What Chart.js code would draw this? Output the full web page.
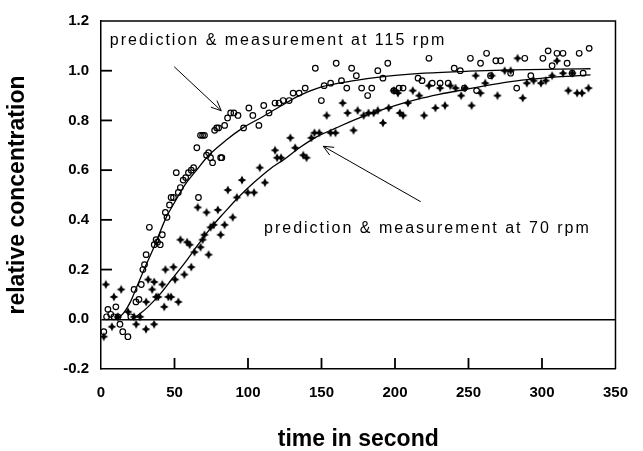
<!DOCTYPE html>
<html>
<head>
<meta charset="utf-8">
<script src="https://cdn.jsdelivr.net/npm/chart.js@4/dist/chart.umd.min.js"></script>
<style>
  body { margin: 0; background: #fff; }
  canvas { display: block; }
</style>
</head>
<body>
<canvas id="chart" width="643" height="451"></canvas>
<script>
// measured points, 115 rpm (open circles)
const circleX = [1.9, 3.8, 4.7, 6.6, 8.8, 10.1, 11.5, 12.9, 14.8, 18.3, 20.3, 22.5, 23.8, 25.8, 27.4, 28.5, 29.6, 30.7, 32.9,
    36.2, 37.5, 38.4, 40.3, 41.7, 43.8, 44.9, 46.6, 47.7, 49.3, 51.2, 52.6, 54.0, 55.9, 57.6, 59.5, 61.4, 63.0,
    65.2, 66.3, 67.7, 69.1, 70.4, 71.8, 73.2, 74.5, 75.9, 77.3, 78.7, 80.0, 81.4, 82.2, 84.1, 86.1, 88.2, 90.4,
    93.2, 97.0, 100.6, 103.3, 107.4, 110.7, 114.3, 118.4, 121.1, 123.9, 128.0, 130.7, 134.8, 138.9, 145.8, 149.9,
    151.8, 156.2, 160.0, 163.6, 167.2, 170.5, 173.7, 177.3, 181.4, 184.2, 188.3, 191.8, 195.1, 199.2, 202.8, 205.5,
    215.7, 218.4, 223.1, 225.3, 230.7, 236.2, 240.3, 244.4, 247.2, 251.3, 255.5, 258.2, 262.3, 265.0, 268.6, 271.9,
    278.7, 282.8, 288.3, 292.4, 300.6, 304.2, 306.9, 310.2, 314.3, 317.1, 320.6, 325.3, 328.0, 332.1];
const circleY = [-0.05, 0.01, 0.04, 0.02, 0.01, 0.05, 0.01, -0.02, -0.05, -0.07, 0.01, 0.12, 0.07, 0.08, 0.14, 0.20, 0.22, 0.26, 0.37,
    0.30, 0.32, 0.31, 0.30, 0.34, 0.43, 0.41, 0.46, 0.49, 0.49, 0.59, 0.51, 0.53, 0.56, 0.57, 0.59, 0.60, 0.61,
    0.69, 0.49, 0.74, 0.74, 0.74, 0.66, 0.67, 0.65, 0.63, 0.76, 0.77, 0.77, 0.65, 0.65, 0.78, 0.81, 0.83, 0.83,
    0.82, 0.77, 0.85, 0.82, 0.78, 0.86, 0.83, 0.87, 0.87, 0.88, 0.88, 0.91, 0.91, 0.93, 1.01, 0.88,
    0.94, 0.95, 1.03, 0.96, 0.93, 1.01, 0.98, 0.93, 0.90, 0.93, 1.00, 0.97, 1.03, 0.92, 0.93, 0.93,
    0.97, 0.96, 1.05, 0.95, 0.95, 0.95, 1.01, 1.00, 0.93, 1.05, 0.92, 1.03, 1.07, 0.98, 1.04, 1.04,
    0.99, 0.93, 1.05, 0.98, 1.05, 1.08, 1.02, 1.07, 1.07, 1.03, 0.99, 1.07, 0.99, 1.09];

// measured points, 70 rpm (filled stars)
const starX = [1.9, 3.3, 7.4, 8.8, 11.5, 13.7, 18.4, 22.5, 23.9, 26.6, 30.6, 30.7, 32.1, 36.1, 34.8, 36.2, 37.5, 38.9, 41.7,
    43.0, 43.8, 45.8, 47.7, 49.3, 50.4, 52.6, 54.0, 56.7, 58.6, 60.3, 61.4, 63.6, 65.8, 67.7, 69.1, 70.4, 71.8,
    73.2, 74.5, 76.7, 79.5, 81.4, 84.1, 86.3, 89.6, 92.4, 95.9, 99.8, 104.1, 108.0, 111.5, 118.4, 119.8, 122.5,
    128.8, 132.1, 137.6, 139.8, 143.1, 145.2, 148.5, 153.5, 156.2, 159.5, 164.4, 167.7, 171.8, 174.6, 178.7, 182.0,
    185.5, 188.3, 191.8, 195.7, 199.2, 202.0, 203.3, 205.5, 208.8, 212.1, 216.5, 219.8, 223.1, 227.5, 230.7, 234.0,
    237.6, 241.2, 245.0, 247.7, 252.1, 254.9, 258.2, 261.4, 265.8, 269.7, 274.6, 278.7, 283.4, 286.9, 289.7, 294.3,
    299.3, 302.6, 306.9, 310.2, 314.3, 317.9, 320.6, 323.9, 327.2, 331.6];
const starY = [-0.07, 0.14, -0.03, 0.09, 0.01, 0.12, 0.03, 0.01, -0.02, 0.01, -0.04, 0.07, 0.16, -0.02, 0.12, 0.15, 0.09, 0.09, 0.14,
    0.05, 0.20, 0.09, 0.09, 0.21, 0.16, 0.07, 0.32, 0.18, 0.31, 0.30, 0.21, 0.27, 0.45, 0.29, 0.32, 0.34, 0.43,
    0.26, 0.37, 0.38, 0.44, 0.34, 0.38, 0.52, 0.41, 0.49, 0.56, 0.51, 0.51, 0.61, 0.55, 0.68, 0.65, 0.65,
    0.73, 0.69, 0.66, 0.65, 0.73, 0.75, 0.75, 0.82, 0.75, 0.75, 0.87, 0.83, 0.76, 0.84, 0.82, 0.83,
    0.83, 0.84, 0.79, 0.85, 0.92, 0.91, 0.83, 0.82, 0.87, 0.92, 0.90, 0.82, 0.94, 0.85, 0.93, 0.86,
    0.94, 0.93, 0.90, 0.93, 0.86, 0.98, 0.91, 0.95, 0.98, 0.90, 1.00, 1.00, 1.05, 0.89, 0.95, 0.96,
    0.95, 0.96, 0.98, 1.04, 0.99, 0.92, 0.99, 0.91, 0.91, 0.93];

// predicted curves
const fit115X = [11, 16, 20, 25, 30, 36, 44, 50, 57, 65, 73, 85, 97, 110, 122, 135, 150, 170, 195, 220, 250, 280, 310, 333];
const fit115Y = [0, 0.03, 0.07, 0.14, 0.21, 0.29, 0.405, 0.47, 0.54, 0.60, 0.658, 0.72, 0.772, 0.815, 0.857, 0.90, 0.935, 0.958, 0.978, 0.99, 0.998, 1.003, 1.006, 1.008];
const fit70X = [21, 26, 32, 40, 48, 57, 66, 75, 84, 93, 104, 115, 125, 135, 147, 160, 180, 200, 215, 230, 247, 265, 280, 295, 310, 333];
const fit70Y = [0, 0.02, 0.05, 0.10, 0.16, 0.227, 0.30, 0.37, 0.43, 0.488, 0.55, 0.605, 0.645, 0.69, 0.735, 0.77, 0.82, 0.86, 0.885, 0.905, 0.924, 0.943, 0.957, 0.967, 0.975, 0.983];

const xTickLabels = ['0', '50', '100', '150', '200', '250', '300', '350'];
const yTickLabels = ['-0.2', '0.0', '0.2', '0.4', '0.6', '0.8', '1.0', '1.2'];

const labelText = ['prediction & measurement at 115 rpm', 'prediction & measurement at 70 rpm'];

const FONT = '"Liberation Sans", Arial, sans-serif';

const pts = (xs, ys) => xs.map((x, i) => ({ x: x, y: ys[i] }));

// little four pointed star for the 70 rpm marks
const star = document.createElement('canvas');
star.width = 10;
star.height = 10;
(function () {
    const c = star.getContext('2d');
    const o = 4.4, n = 2.1, m = 5;
    c.beginPath();
    for (let k = 0; k < 8; k++) {
        const a = -Math.PI / 2 + k * Math.PI / 4;
        const r = k % 2 ? n : o;
        c.lineTo(m + r * Math.cos(a), m + r * Math.sin(a));
    }
    c.closePath();
    c.fillStyle = '#000';
    c.fill();
})();

// box, inward ticks, arrows and texts
const extras = {
    id: 'extras',
    afterDraw(chart) {
        const c = chart.ctx;
        const a = chart.chartArea;
        const sx = chart.scales.x, sy = chart.scales.y;
        c.save();
        c.strokeStyle = '#000';
        c.fillStyle = '#000';
        c.lineWidth = 1.5;
        c.beginPath();
        c.moveTo(a.left, a.top);
        c.lineTo(a.right, a.top);
        c.lineTo(a.right, a.bottom);
        c.stroke();

        // inward tick marks
        for (const lab of xTickLabels) {
            const v = parseFloat(lab);
            if (v <= sx.min || v >= sx.max) continue;
            const px = sx.getPixelForValue(v);
            c.fillRect(px - 0.9, a.bottom - 11, 1.8, 11);
        }
        for (const lab of yTickLabels) {
            const v = parseFloat(lab);
            if (v <= sy.min + 1e-6 || v >= sy.max - 1e-6 || Math.abs(v) < 1e-6) continue;
            const py = sy.getPixelForValue(v);
            c.fillRect(a.left, py - 0.9, 11, 1.8);
        }

        const arrow = (x0, y0, x1, y1) => {
            const ax = sx.getPixelForValue(x0), ay = sy.getPixelForValue(y0);
            const bx = sx.getPixelForValue(x1), by = sy.getPixelForValue(y1);
            const ang = Math.atan2(by - ay, bx - ax);
            c.lineWidth = 1;
            c.beginPath();
            c.moveTo(ax, ay);
            c.lineTo(bx, by);
            [0.42, -0.42].forEach(d => {
                c.moveTo(bx, by);
                c.lineTo(bx - 11 * Math.cos(ang + d), by - 11 * Math.sin(ang + d));
            });
            c.stroke();
        };
        arrow(49.8, 1.016, 81.8, 0.839);
        arrow(217.5, 0.473, 151.2, 0.696);

        c.font = '16px ' + FONT;
        c.textAlign = 'left';
        c.textBaseline = 'alphabetic';
        c.letterSpacing = '2px';
        c.fillText(labelText[0], sx.getPixelForValue(6), sy.getPixelForValue(1.103));
        c.fillText(labelText[1], sx.getPixelForValue(110.9), sy.getPixelForValue(0.347));
        c.restore();
    }
};

const ctx = document.getElementById('chart').getContext('2d');
const chart = new Chart(ctx, {
    type: 'scatter',
    data: {
        datasets: [
            {
                data: pts(fit115X, fit115Y),
                showLine: true,
                borderColor: '#000',
                borderWidth: 1.3,
                pointRadius: 0,
                cubicInterpolationMode: 'monotone'
            },
            {
                data: pts(fit70X, fit70Y),
                showLine: true,
                borderColor: '#000',
                borderWidth: 1.3,
                pointRadius: 0,
                cubicInterpolationMode: 'monotone'
            },
            {
                data: pts(circleX, circleY),
                pointStyle: 'circle',
                pointRadius: 2.8,
                borderWidth: 1.2,
                borderColor: '#000',
                backgroundColor: 'rgba(255,255,255,0)'
            },
            {
                data: pts(starX, starY),
                pointStyle: star,
                pointRadius: 4
            }
        ]
    },
    options: {
        responsive: false,
        animation: false,
        events: [],
        layout: { padding: { top: 11, right: 19, left: 0, bottom: 0 } },
        plugins: { legend: { display: false }, tooltip: { enabled: false } },
        scales: {
            x: {
                type: 'linear',
                min: 0,
                max: 350,
                ticks: {
                    stepSize: 50,
                    padding: 15,
                    color: '#000',
                    font: { family: FONT, size: 15, weight: 'bold' },
                    callback: (v, i) => xTickLabels[i] ?? v
                },
                grid: { display: false, drawTicks: false },
                border: { display: true, color: '#000', width: 1.5 },
                title: {
                    display: true,
                    text: 'time in second',
                    color: '#000',
                    font: { family: FONT, size: 23, weight: 'bold', lineHeight: 1 },
                    padding: 0
                },
                afterFit(s) { s.height = 82; }
            },
            y: {
                min: -0.2,
                max: 1.2,
                ticks: {
                    stepSize: 0.2,
                    padding: 12,
                    color: '#000',
                    font: { family: FONT, size: 15, weight: 'bold' },
                    callback: (v, i) => yTickLabels[i] ?? v
                },
                grid: {
                    drawTicks: false,
                    color: g => (g.tick && Math.abs(g.tick.value) < 1e-6) ? '#000' : 'rgba(0,0,0,0)',
                    lineWidth: 1.4
                },
                border: { display: true, color: '#000', width: 1.5 },
                title: {
                    display: true,
                    text: 'relative concentration',
                    color: '#000',
                    font: { family: FONT, size: 23, weight: 'bold', lineHeight: 1 },
                    padding: { top: 6, bottom: 0 }
                },
                afterFit(s) { s.width = 101; }
            }
        }
    },
    plugins: [extras]
});
</script>
</body>
</html>
